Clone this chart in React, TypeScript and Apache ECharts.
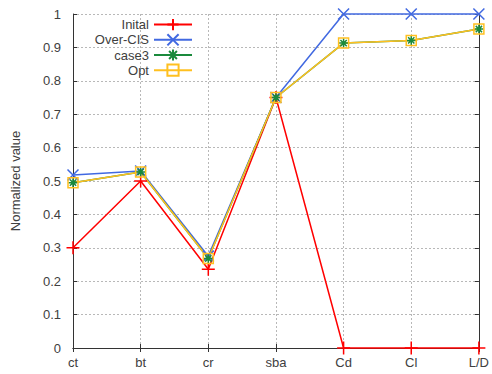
import React, { useEffect, useRef } from "react";
import * as echarts from "echarts";

const categories = ["ct", "bt", "cr", "sba", "Cd", "Cl", "L/D"];
const initalValues = [0.3, 0.5, 0.236, 0.75, 0, 0, 0];
const overCisValues = [0.518, 0.53, 0.275, 0.75, 1, 1, 1];
const case3Values = [0.495, 0.527, 0.268, 0.75, 0.913, 0.921, 0.955];
const optValues = [0.495, 0.527, 0.268, 0.75, 0.913, 0.921, 0.955];
const yTicks = [0, 0.1, 0.2, 0.3, 0.4, 0.5, 0.6, 0.7, 0.8, 0.9, 1];

const FONT = "Liberation Sans";
const TEXT = "#404040";
const AXIS = "#333333";
const GRID = "#b8b8b8";

export default function App() {
  const ref = useRef<HTMLDivElement>(null);
  useEffect(() => {
    if (!ref.current) return;
    const chart = echarts.init(ref.current, undefined, { renderer: "svg" });
    const mk = (
      name: string,
      data: number[],
      color: string,
      symbol: string,
      size: number,
      fill?: string
    ) => ({
      name,
      type: "line",
      data,
      symbol,
      symbolSize: size,
      clip: false,
      lineStyle: { color, width: 1.5 },
      itemStyle: { color: fill ?? color, borderColor: color, borderWidth: 1.5 },
      emphasis: { disabled: true },
    });
    chart.setOption({
      animation: false,
      textStyle: { fontFamily: FONT },
      legend: {
        orient: "vertical",
        align: "right",
        right: 299,
        top: 18,
        padding: 0,
        itemWidth: 38,
        itemHeight: 14,
        itemGap: 2,
        textStyle: { fontFamily: FONT, fontSize: 13, color: TEXT },
        data: ["Inital", "Over-CIS", "case3", "Opt"],
      },
      grid: { left: 73, right: 6, top: 14, bottom: 26 },
      xAxis: [
        {
          type: "category",
          data: categories,
          boundaryGap: false,
          axisLine: { show: true, lineStyle: { color: AXIS, width: 1 } },
          axisTick: { show: true, inside: true, length: 4, alignWithLabel: true, lineStyle: { color: AXIS } },
          axisLabel: { fontFamily: FONT, fontSize: 13, color: TEXT, margin: 8, interval: 0 },
          splitLine: { show: true, interval: 0, lineStyle: { color: GRID, type: [2, 2], width: 1 } },
        },
        {
          type: "category",
          data: categories,
          position: "top",
          boundaryGap: false,
          axisLine: { show: true, lineStyle: { color: AXIS, width: 1 } },
          axisTick: { show: true, inside: true, length: 4, lineStyle: { color: AXIS } },
          axisLabel: { show: false },
          splitLine: { show: false },
        },
      ],
      yAxis: [
        {
          type: "value",
          min: 0,
          max: 1,
          interval: 0.1,
          name: "Normalized value",
          nameLocation: "middle",
          nameGap: 51,
          nameTextStyle: { fontFamily: FONT, fontSize: 13, color: TEXT },
          axisLine: { show: true, lineStyle: { color: AXIS, width: 1 } },
          axisTick: { show: true, inside: true, length: 4, lineStyle: { color: AXIS } },
          axisLabel: {
            fontFamily: FONT,
            fontSize: 13,
            color: TEXT,
            margin: 12,
            formatter: (v: number) => {
              const t = yTicks.find((x) => Math.abs(x - v) < 1e-9);
              return String(t ?? v);
            },
          },
          splitLine: { show: true, lineStyle: { color: GRID, type: [2, 2], width: 1 } },
        },
        {
          type: "value",
          min: 0,
          max: 1,
          interval: 0.1,
          position: "right",
          axisLine: { show: true, lineStyle: { color: AXIS, width: 1 } },
          axisTick: { show: true, inside: true, length: 4, lineStyle: { color: AXIS } },
          axisLabel: { show: false },
          splitLine: { show: false },
        },
      ],
      series: [
        mk("Inital", initalValues, "#ff0000", "path://M0,5L10,5M5,0L5,10", 13),
        mk("Over-CIS", overCisValues, "#4169e1", "path://M0,0L10,10M10,0L0,10", 11),
        mk(
          "case3",
          case3Values,
          "#1a8a3c",
          "path://M0,5L10,5M5,0L5,10M1.5,1.5L8.5,8.5M8.5,1.5L1.5,8.5",
          9
        ),
        mk("Opt", optValues, "#ffc020", "path://M0,0L10,0L10,10L0,10Z", 10, "rgba(0,0,0,0)"),
      ],
    });
    return () => chart.dispose();
  }, []);
  return (
    <div
      ref={ref}
      style={{ position: "absolute", left: 0, top: 0, width: 492, height: 374 }}
    />
  );
}
